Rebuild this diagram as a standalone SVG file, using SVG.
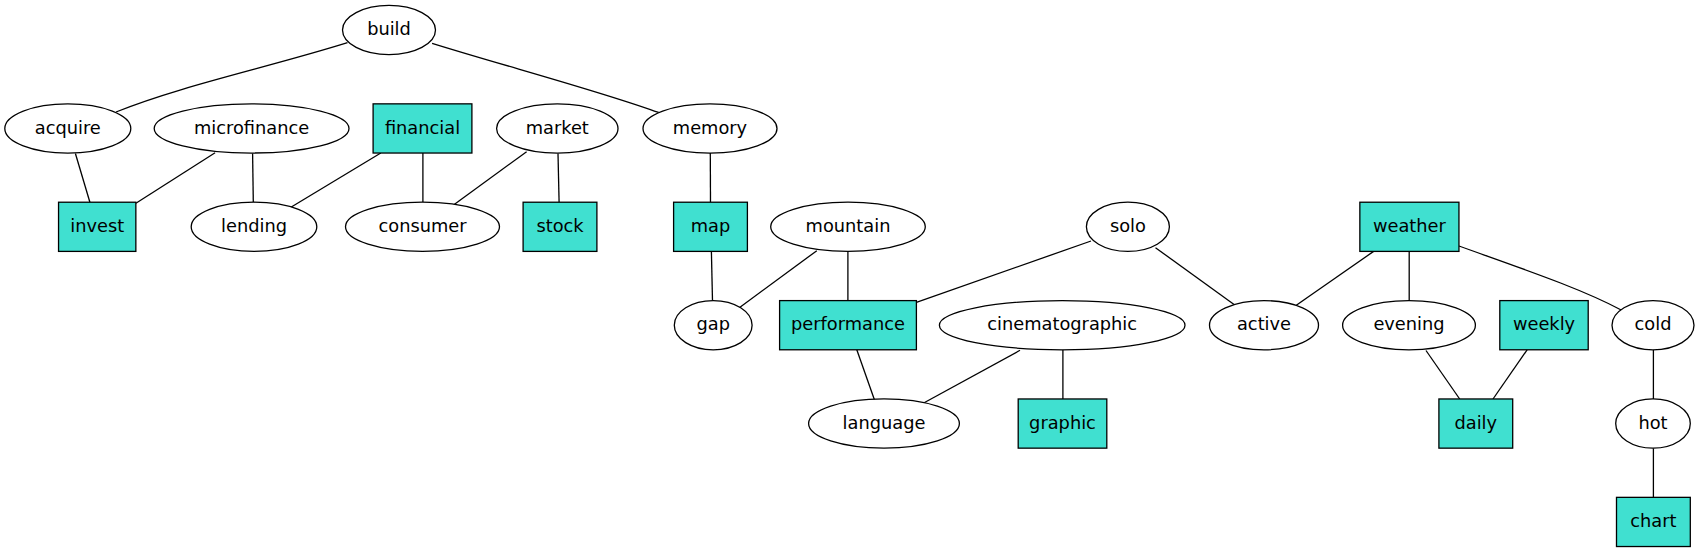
<svg xmlns="http://www.w3.org/2000/svg" width="1700" height="552" viewBox="0 0 1700 552">
<style>
.e{fill:#ffffff;stroke:#000000;stroke-width:1.3}
.b{fill:#40e0d0;stroke:#000000;stroke-width:1.3}
text{font-family:"DejaVu Sans","Liberation Sans",sans-serif;font-size:17.8px;fill:#000000;text-anchor:middle}
#edges path,#edges line{stroke:#000000;stroke-width:1.3;fill:none}
</style>
<rect width="1700" height="552" fill="#ffffff"/>
<g id="edges">
<path d="M347.5,42.7 C270,67 180,86 116,112"/>
<path d="M432.1,43.3 C505,66 600,91 659.3,112.7"/>
<line x1="75.4" y1="153.5" x2="89.9" y2="202.2"/>
<line x1="215.1" y1="152.7" x2="135.9" y2="203.3"/>
<line x1="252.6" y1="153.5" x2="253.3" y2="202.3"/>
<line x1="380.8" y1="153" x2="290.9" y2="207.3"/>
<line x1="422.9" y1="153" x2="422.9" y2="202.3"/>
<line x1="526.6" y1="151.7" x2="453.5" y2="205"/>
<line x1="558" y1="153.5" x2="559.1" y2="202.2"/>
<line x1="710.3" y1="153" x2="710.5" y2="202.2"/>
<line x1="711.4" y1="251.4" x2="712.5" y2="300.7"/>
<line x1="816.8" y1="250.7" x2="739.3" y2="307.7"/>
<line x1="847.9" y1="251.4" x2="847.9" y2="300.6"/>
<line x1="1091" y1="241" x2="916.4" y2="302.3"/>
<line x1="1155.5" y1="247.7" x2="1235.1" y2="305.3"/>
<line x1="1373.6" y1="251.4" x2="1295.2" y2="306"/>
<line x1="1409.2" y1="251.4" x2="1409.2" y2="300.7"/>
<path d="M1459,246 C1520,268 1580,288 1621.2,310"/>
<line x1="856.8" y1="349.8" x2="874.6" y2="400.3"/>
<line x1="1020" y1="350.3" x2="923.2" y2="403.3"/>
<line x1="1062.9" y1="349.8" x2="1062.9" y2="399"/>
<line x1="1426" y1="350.5" x2="1459.7" y2="399"/>
<line x1="1527.1" y1="349.8" x2="1493" y2="399"/>
<line x1="1653.4" y1="349.8" x2="1653.4" y2="399"/>
<line x1="1653.4" y1="448.2" x2="1653.4" y2="497.4"/>
</g>
<g id="build"><ellipse class="e" cx="389" cy="30.06" rx="46.5" ry="24.59"/><text x="389" y="35.3">build</text></g>
<g id="acquire"><ellipse class="e" cx="67.8" cy="128.44" rx="63" ry="24.59"/><text x="67.8" y="133.7">acquire</text></g>
<g id="microfinance"><ellipse class="e" cx="251.6" cy="128.44" rx="97.4" ry="24.59"/><text x="251.6" y="133.7">microfinance</text></g>
<g id="financial"><rect class="b" x="373.1" y="103.85" width="98.8" height="49.18"/><text x="422.5" y="133.7">financial</text></g>
<g id="market"><ellipse class="e" cx="557.3" cy="128.44" rx="60.7" ry="24.59"/><text x="557.3" y="133.7">market</text></g>
<g id="memory"><ellipse class="e" cx="710" cy="128.44" rx="67" ry="24.59"/><text x="710" y="133.7">memory</text></g>
<g id="invest"><rect class="b" x="58.55" y="202.22" width="77.3" height="49.18"/><text x="97.2" y="232.1">invest</text></g>
<g id="lending"><ellipse class="e" cx="254" cy="226.81" rx="62.8" ry="24.59"/><text x="254" y="232.1">lending</text></g>
<g id="consumer"><ellipse class="e" cx="422.5" cy="226.81" rx="77" ry="24.59"/><text x="422.5" y="232.1">consumer</text></g>
<g id="stock"><rect class="b" x="523.1" y="202.22" width="73.8" height="49.18"/><text x="560" y="232.1">stock</text></g>
<g id="map"><rect class="b" x="673.6" y="202.22" width="73.8" height="49.18"/><text x="710.5" y="232.1">map</text></g>
<g id="mountain"><ellipse class="e" cx="848" cy="226.81" rx="77.3" ry="24.59"/><text x="848" y="232.1">mountain</text></g>
<g id="solo"><ellipse class="e" cx="1127.9" cy="226.81" rx="41.5" ry="24.59"/><text x="1127.9" y="232.1">solo</text></g>
<g id="weather"><rect class="b" x="1359.85" y="202.22" width="99.1" height="49.18"/><text x="1409.4" y="232.1">weather</text></g>
<g id="gap"><ellipse class="e" cx="713.2" cy="325.19" rx="38.9" ry="24.59"/><text x="713.2" y="330.4">gap</text></g>
<g id="performance"><rect class="b" x="779.6" y="300.6" width="136.8" height="49.18"/><text x="848" y="330.4">performance</text></g>
<g id="cinematographic"><ellipse class="e" cx="1062.2" cy="325.19" rx="122.8" ry="24.59"/><text x="1062.2" y="330.4">cinematographic</text></g>
<g id="active"><ellipse class="e" cx="1264" cy="325.19" rx="54.5" ry="24.59"/><text x="1264" y="330.4">active</text></g>
<g id="evening"><ellipse class="e" cx="1409" cy="325.19" rx="66.4" ry="24.59"/><text x="1409" y="330.4">evening</text></g>
<g id="weekly"><rect class="b" x="1499.8" y="300.6" width="88.4" height="49.18"/><text x="1544" y="330.4">weekly</text></g>
<g id="cold"><ellipse class="e" cx="1653" cy="325.19" rx="41" ry="24.59"/><text x="1653" y="330.4">cold</text></g>
<g id="language"><ellipse class="e" cx="884" cy="423.56" rx="75.4" ry="24.59"/><text x="884" y="428.8">language</text></g>
<g id="graphic"><rect class="b" x="1018.2" y="398.97" width="88.6" height="49.18"/><text x="1062.5" y="428.8">graphic</text></g>
<g id="daily"><rect class="b" x="1438.9" y="398.97" width="73.8" height="49.18"/><text x="1475.8" y="428.8">daily</text></g>
<g id="hot"><ellipse class="e" cx="1653" cy="423.56" rx="37.3" ry="24.59"/><text x="1653" y="428.8">hot</text></g>
<g id="chart"><rect class="b" x="1616.5" y="497.35" width="73.8" height="49.18"/><text x="1653.4" y="527.2">chart</text></g>
</svg>
